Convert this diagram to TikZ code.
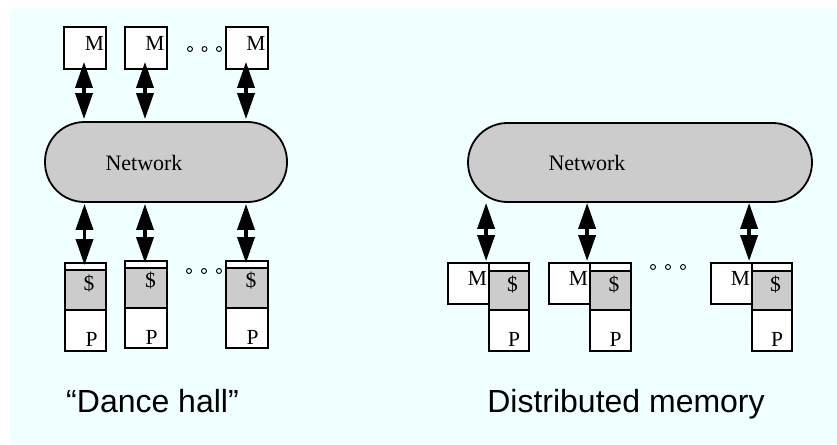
\documentclass[tikz,border=0pt]{standalone}
\usepackage{fontspec}
\setmainfont{Liberation Serif}
\newfontfamily\titlefont{Liberation Sans}
\usetikzlibrary{arrows.meta}
\definecolor{bgcyan}{RGB}{240,255,255}
\definecolor{netgray}{RGB}{204,204,204}
\begin{document}
\begin{tikzpicture}[x=1pt,y=-1pt,
  box/.style={draw, line width=1.8pt, fill=white, inner sep=0pt},
  gbox/.style={box, fill=netgray},
  lbl/.style={inner sep=0pt, font=\fontsize{21.5}{25}\selectfont},
  netlbl/.style={inner sep=0pt, font=\fontsize{22}{26}\selectfont},
  net/.style={draw, line width=1.8pt, fill=netgray, rounded corners=39.5pt, inner sep=0pt},
  biarrow/.style={line width=3.5pt, {Triangle[length=26pt 0 0,width=17pt 0 0]}-{Triangle[length=26pt 0 0,width=17pt 0 0]}},
  smalldot/.style={circle, draw, line width=0.9pt, inner sep=0pt, minimum size=5pt},
  title/.style={inner sep=0pt, anchor=base, font=\titlefont\fontsize{32}{38}\selectfont}]
\useasboundingbox (0,0) rectangle (837,444);
\fill[bgcyan] (10,8) rectangle (837,444);

% ---------- Dance hall ----------
\node[net, minimum width=242pt, minimum height=80pt] (net1) at (166,162) {};
\node[netlbl] (nl1) at (144,163) {Network};

% memories
\node[box, minimum width=42pt, minimum height=42pt] (m1) at (85,48) {};
\node[box, minimum width=42pt, minimum height=42pt] (m2) at (146,48) {};
\node[box, minimum width=42pt, minimum height=42pt] (m3) at (247,48) {};
\node[lbl] (ml1) at (94.5,43.5) {M};
\node[lbl] (ml2) at (155,43.5) {M};
\node[lbl] (ml3) at (256,43.5) {M};
\node[smalldot] (td1) at (190,49) {};
\node[smalldot] (td2) at (204.5,49) {};
\node[smalldot] (td3) at (219,49) {};

% processors
\node[box, minimum width=41pt, minimum height=88pt] (c1) at (85.5,307) {};
\node[gbox, minimum width=41pt, minimum height=40pt] (k1) at (85.5,290) {};
\node[box, minimum width=42pt, minimum height=87pt] (c2) at (146,304.5) {};
\node[gbox, minimum width=42pt, minimum height=40pt] (k2) at (146,288) {};
\node[box, minimum width=42pt, minimum height=87pt] (c3) at (247,304.5) {};
\node[gbox, minimum width=42pt, minimum height=40pt] (k3) at (247,288) {};
\node[lbl] (kl1) at (89,284) {\$};
\node[lbl] (kl2) at (150.5,281) {\$};
\node[lbl] (kl3) at (251,281) {\$};
\node[lbl] (pl1) at (91.5,339) {P};
\node[lbl] (pl2) at (151.5,337) {P};
\node[lbl] (pl3) at (252.5,337) {P};
\node[smalldot] (bd1) at (189,271) {};
\node[smalldot] (bd2) at (204,271) {};
\node[smalldot] (bd3) at (219,271) {};

% arrows
\foreach \i in {1,2,3}{
  \draw[biarrow] ([xshift=-1pt,yshift=8pt]m\i.south) -- ([xshift=-1pt,yshift=2pt]m\i.south |- net1.north);
  \draw[biarrow] ([xshift=-1pt,yshift=-1pt]c\i.north |- net1.south) -- ([xshift=-1pt,yshift=-3pt]c\i.north);
}

\node[title] (t1) at (152.5,412) {“Dance hall”};

% ---------- Distributed memory ----------
\node[net, minimum width=344pt, minimum height=79pt] (net2) at (640,162.5) {};
\node[netlbl] (nl2) at (587,163) {Network};

\node[box, minimum width=41pt, minimum height=41pt] (dm1) at (468.5,283.5) {};
\node[box, minimum width=41pt, minimum height=41pt] (dm2) at (569.5,283.5) {};
\node[box, minimum width=41pt, minimum height=41pt] (dm3) at (731.5,283.5) {};
\node[box, minimum width=40pt, minimum height=88pt] (dc1) at (509,307) {};
\node[box, minimum width=41pt, minimum height=88pt] (dc2) at (610.5,307) {};
\node[box, minimum width=40pt, minimum height=88pt] (dc3) at (772,307) {};
\node[gbox, minimum width=40pt, minimum height=39pt] (dk1) at (509,290.5) {};
\node[gbox, minimum width=41pt, minimum height=39pt] (dk2) at (610.5,290.5) {};
\node[gbox, minimum width=40pt, minimum height=39pt] (dk3) at (772,290.5) {};
\node[lbl] (dml1) at (477.5,278.5) {M};
\node[lbl] (dml2) at (578.5,278.5) {M};
\node[lbl] (dml3) at (740.5,278.5) {M};
\node[lbl] (dkl1) at (512.5,284.5) {\$};
\node[lbl] (dkl2) at (614,284.5) {\$};
\node[lbl] (dkl3) at (775.5,284.5) {\$};
\node[lbl] (dpl1) at (514,339.5) {P};
\node[lbl] (dpl2) at (615.5,339.5) {P};
\node[lbl] (dpl3) at (777,339.5) {P};
\node[smalldot] (rd1) at (653,267) {};
\node[smalldot] (rd2) at (668,267) {};
\node[smalldot] (rd3) at (683,267) {};

\foreach \i in {1,2,3}{
  \draw[biarrow] ([xshift=-2pt]dc\i.north west |- net2.south) -- ([xshift=-2pt,yshift=1pt]dc\i.north west);
}

\node[title] (t2) at (626,412) {Distributed memory};
\end{tikzpicture}
\end{document}
